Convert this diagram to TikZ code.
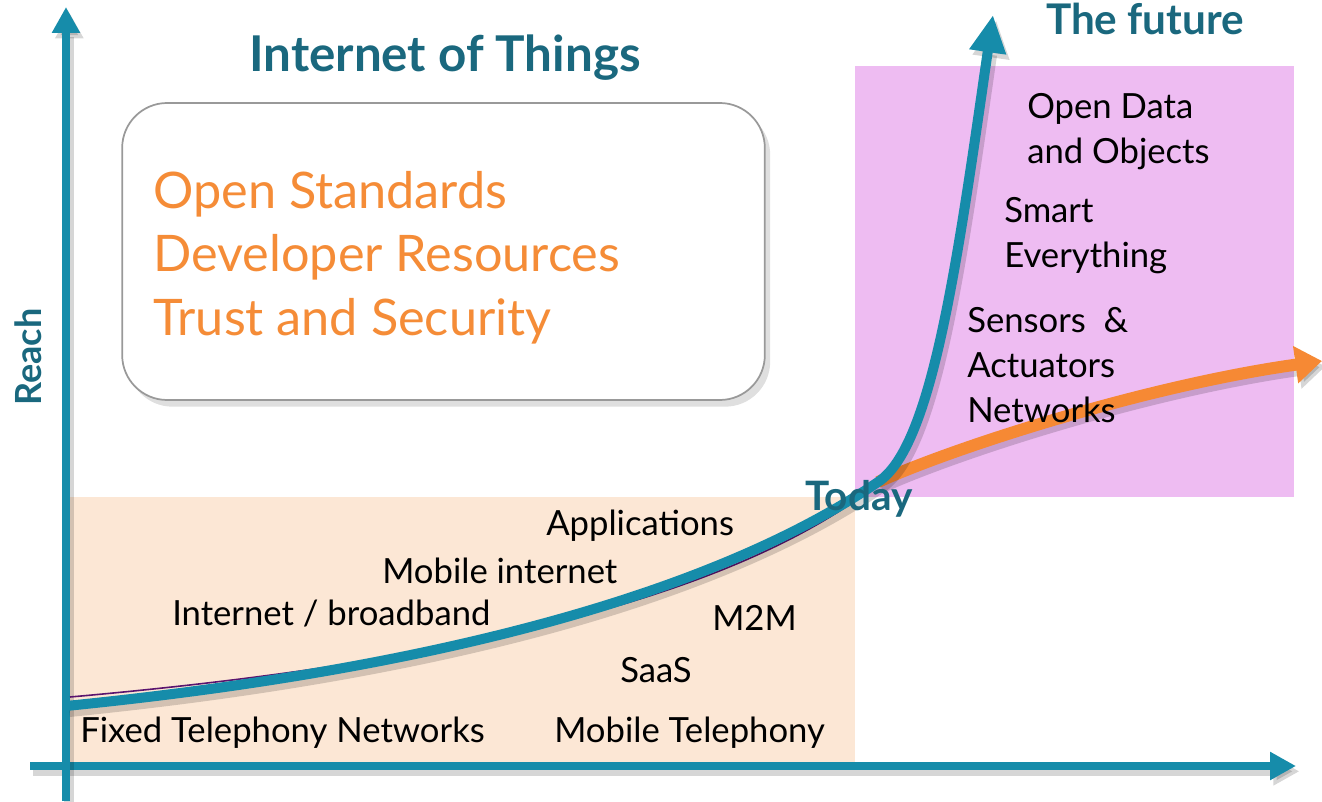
\documentclass[tikz,border=0pt]{standalone}
\usepackage{fontspec}
\setmainfont{Lato}
\usetikzlibrary{arrows.meta,shadows}
\definecolor{teal1}{RGB}{22,140,170}
\definecolor{tealtxt}{RGB}{26,104,126}
\definecolor{orng}{RGB}{246,137,52}
\definecolor{orngtxt}{RGB}{245,140,55}
\definecolor{pinkbg}{RGB}{238,188,242}
\definecolor{peachbg}{RGB}{252,231,213}
\definecolor{purp}{RGB}{90,20,110}
\begin{document}
\begin{tikzpicture}[x=0.75pt,y=-0.75pt,
  shad/.style={preaction={draw=black,opacity=0.16,line width=#1,transform canvas={shift={(2.5pt,-4pt)}}}},
  axis/.style={draw=teal1,line width=6.5pt,-{Triangle[length=19.5pt,width=20pt]},shad=7.5pt},
  tcurve/.style={draw=teal1,line width=7.5pt,-{Triangle[length=28pt,width=26pt]},shad=8.5pt},
  ocurve/.style={draw=orng,line width=9pt,-{Triangle[length=20pt,width=27pt]},shad=9pt},
  roundbox/.style={draw=black!40,line width=1.3pt,fill=white,rounded corners=33.75pt,
    minimum width=482pt,minimum height=222.75pt,inner sep=0pt,
    drop shadow={shadow xshift=4pt,shadow yshift=-5pt,opacity=0.25}},
  lbl/.style={anchor=base west,inner sep=0pt,text=black,align=left,
    font=\fontsize{26}{33.75}\selectfont},
  olbl/.style={anchor=base west,inner sep=0pt,text=orngtxt,align=left,
    font=\fontsize{37.8}{48}\selectfont},
  ttl/.style={inner sep=0pt,text=tealtxt,font=\bfseries\fontsize{37}{40}\selectfont}
]
\useasboundingbox (0,0) rectangle (1322,802);
% backgrounds
\fill[peachbg] (70,497) rectangle (855,762);
\fill[pinkbg] (855,66) rectangle (1294,497);
% rounded box
\node[roundbox] (box) at (443.5,251.5) {};
\node[olbl] (std) at (153,336) {Open Standards\\Developer Resources\\Trust and Security};
% axes
\coordinate (xs) at (30,766);
\coordinate (xe) at (1296,766);
\coordinate (ys) at (66,801);
\coordinate (ye) at (66,7);
\draw[axis] (xs) -- (xe);
\draw[axis] (ys) -- (ye);
% curves
\coordinate (c0) at (66,706);
\coordinate (today) at (878,482);
\coordinate (fut) at (993,15);
\coordinate (oe) at (1322,361);
\coordinate (p0) at (70,697);
\coordinate (p1) at (870,490);
\draw[ocurve] (today) .. controls (960,445) and (1150,385) .. (oe);
\draw[purp,line width=1.2pt] (p0) .. controls (466,662) and (728,596) .. (p1);
\draw[tcurve] (c0) .. controls (466,666) and (728,584) .. (today) .. controls (932,447) and (957,265) .. (fut);
% titles
\node[ttl,anchor=base] (iot) at (445,72) {Internet of Things};
\node[ttl,anchor=base,font=\bfseries\fontsize{31.7}{34}\selectfont] (fu) at (1145,35) {The future};
\node[ttl,rotate=90,font=\bfseries\fontsize{27}{30}\selectfont] (reach) at (28,357) {Reach};
\node[ttl,anchor=base west,font=\bfseries\fontsize{30.4}{32}\selectfont] (td) at (805,510) {Today};
% labels
\node[lbl] (ftn) at (80,742) {Fixed Telephony Networks};
\node[lbl] (mt) at (554,742) {Mobile Telephony};
\node[lbl] (saas) at (620,682) {SaaS};
\node[lbl] (m2m) at (712,630) {M2M};
\node[lbl] (ib) at (172,625) {Internet / broadband};
\node[lbl] (mi) at (382,583) {Mobile internet};
\node[lbl] (app) at (546,535) {Applications};
\node[lbl] (od) at (1027,164) {Open Data\\and Objects};
\node[lbl] (se) at (1004,268) {Smart\\Everything};
\node[lbl] (san) at (967,422) {Sensors~~\&\\Actuators\\Networks};
\end{tikzpicture}
\end{document}
